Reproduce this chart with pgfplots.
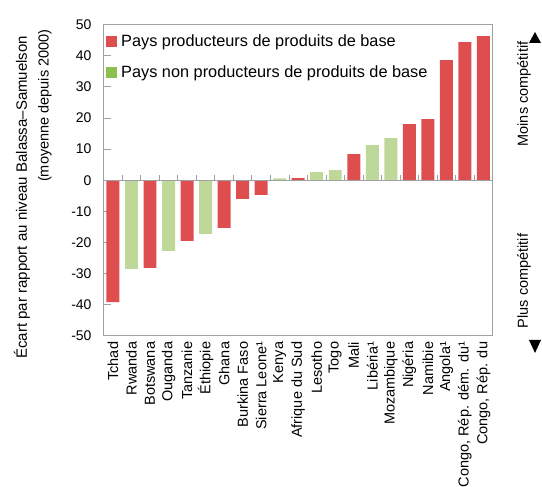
\documentclass[border=0pt]{standalone}
\usepackage{pgfplots}
\pgfplotsset{compat=1.18}
\usepackage{fontspec}
\setmainfont{Liberation Sans}

\definecolor{prodred}{HTML}{DE4E4E}
\definecolor{nonprodgreen}{HTML}{BED89A}
\definecolor{legendgreen}{HTML}{8CC04F}
\definecolor{axisgray}{HTML}{A0A0A0}

\begin{document}
\begin{tikzpicture}
\begin{axis}[
    scale only axis,
    width=389pt, height=311pt,
    xmin=-0.5, xmax=20.5,
    ymin=-50, ymax=50,
    ytick={-50,-40,...,50},
    yticklabels={-50,-40,-30,-20,-10,0,10,20,30,40,50},
    xtick={0,...,20},
    xticklabels={Tchad, Rwanda, Botswana, Ouganda, Tanzanie, Éthiopie, Ghana,
        Burkina Faso, Sierra Leone¹, Kenya, Afrique du Sud, Lesotho, Togo, Mali,
        Libéria¹, Mozambique, Nigéria, Namibie, Angola¹, {Congo, Rép. dém. du¹},
        {Congo, Rép. du}},
    major x tick style={draw=none},
    ytick pos=left,
    tick align=inside,
    major tick length=7pt,
    tick style={axisgray, line width=0.8pt},
    axis line style={axisgray, line width=0.8pt},
    xticklabel style={rotate=90, anchor=east, inner sep=1pt,
        font=\fontsize{14.5}{16}\selectfont},
    yticklabel style={font=\fontsize{14}{15}\selectfont, inner sep=1pt},
    xticklabel shift=5pt,
    yticklabel shift=11pt,
    clip=false,
    legend style={at={(rel axis cs:0.005,0.975)}, anchor=north west,
        draw=none, fill=none, inner sep=0pt, row sep=14pt,
        font=\fontsize{16.3}{18}\selectfont},
    legend cell align=left,
]
% pays producteurs de produits de base
\addplot[ybar, bar width=0.7, bar shift=0pt, fill=prodred, draw=none, forget plot]
    coordinates {(0,-39.2) (2,-28.2) (4,-19.5) (6,-15.3) (7,-6.0) (8,-4.7)
    (10,0.7) (13,8.4) (16,18.0) (17,19.6) (18,38.6) (19,44.4) (20,46.3)};
% pays non producteurs
\addplot[ybar, bar width=0.7, bar shift=0pt, fill=nonprodgreen, draw=none, forget plot]
    coordinates {(1,-28.5) (3,-22.7) (5,-17.3) (9,0.6) (11,2.6) (12,3.2)
    (14,11.3) (15,13.5)};

\draw[axisgray, line width=0.8pt] (axis cs:-0.5,0) -- (axis cs:20.5,0);
\pgfplotsinvokeforeach{0.5,1.5,...,19.5}{
    \draw[axisgray, line width=0.8pt] (axis cs:#1,0) -- (axis cs:#1,1.6);
}

\addlegendimage{legend image code/.code={\fill[prodred] (0pt,-5pt) rectangle (10pt,5pt); \path (13pt,0pt);}}
\addlegendentry{Pays producteurs de produits de base}
\addlegendimage{legend image code/.code={\fill[legendgreen] (0pt,-5pt) rectangle (10pt,5pt); \path (13pt,0pt);}}
\addlegendentry{Pays non producteurs de produits de base}

\coordinate (sw) at (rel axis cs:0,0);
\end{axis}

\begin{scope}[shift={(sw)}, x=1pt, y=1pt, font=\fontsize{14.5}{16}\selectfont]
\node[rotate=90, font=\fontsize{15}{16}\selectfont] at (-81.7,138.5) {Écart par rapport au niveau Balassa–Samuelson};
\node[rotate=90] at (-58.7,230) {(moyenne depuis 2000)};
\node[rotate=90] at (420.3,241.7) {Moins compétitif};
\node[rotate=90] at (420.3,54.7) {Plus compétitif};
\fill (431.3,303.7) -- (425.3,292.7) -- (437.3,292.7) -- cycle;
\fill (431.3,-17.3) -- (425.3,-4.3) -- (437.3,-4.3) -- cycle;
\end{scope}
\pgfresetboundingbox
\path[use as bounding box, shift={(sw)}, x=1pt, y=1pt] (-103.7,-151.3) rectangle (438.3,335.7);
\end{tikzpicture}
\end{document}
